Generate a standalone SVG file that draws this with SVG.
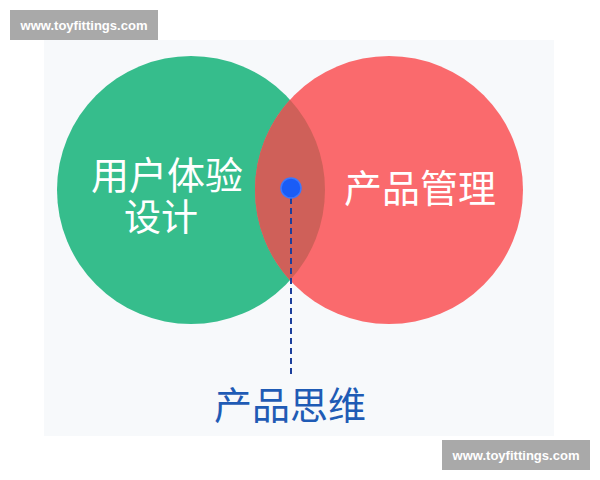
<svg xmlns="http://www.w3.org/2000/svg" width="600" height="480" viewBox="0 0 600 480">
  <style>
    .wm-box { fill: #a9a9a9; }
    .wm-text { fill: #ffffff; font-family: "Liberation Sans", "DejaVu Sans", sans-serif; font-size: 13px; font-weight: bold; text-anchor: middle; }
    .label { fill: #ffffff; font-family: "Noto Sans CJK SC", "Noto Sans", sans-serif; font-size: 38px; text-anchor: middle; }
    .concept { fill: #1f5bb5; font-family: "Noto Sans CJK SC", "Noto Sans", sans-serif; font-size: 38px; text-anchor: middle; }
  </style>
  <rect x="0" y="0" width="600" height="480" fill="#ffffff"/>
  <rect x="44" y="40" width="510" height="396" fill="#f7f9fb"/>

  <g id="node-ux">
    <circle cx="191" cy="190" r="134" fill="#36bd8c"/>
    <text class="label" x="167" y="189">用户体验</text>
    <text class="label" x="161" y="231" style="font-size:37px">设计</text>
  </g>

  <g id="node-pm">
    <circle cx="389" cy="190" r="134" fill="#fa6a6d"/>
    <path d="M290,99.7 A134,134 0 0,1 290,280.3 A134,134 0 0,1 290,99.7 Z" fill="#cf6059"/>
    <text class="label" x="420" y="202">产品管理</text>
  </g>

  <g id="connectors">
    <line x1="291" y1="198" x2="291" y2="376" stroke="#1d3f9c" stroke-width="2" stroke-dasharray="6 4"/>
  </g>

  <g id="node-dot">
    <circle cx="291" cy="188" r="10" fill="#1a5cf6" stroke="#3b78ff" stroke-width="1.5"/>
  </g>

  <g id="node-thinking">
    <text class="concept" x="290" y="419">产品思维</text>
  </g>

  <g id="watermark-top">
    <rect class="wm-box" x="10" y="10" width="148" height="30"/>
    <text class="wm-text" x="84" y="29.5" textLength="127" lengthAdjust="spacingAndGlyphs">www.toyfittings.com</text>
  </g>
  <g id="watermark-bottom">
    <rect class="wm-box" x="442" y="440" width="148" height="30"/>
    <text class="wm-text" x="516" y="459.5" textLength="127" lengthAdjust="spacingAndGlyphs">www.toyfittings.com</text>
  </g>
</svg>
